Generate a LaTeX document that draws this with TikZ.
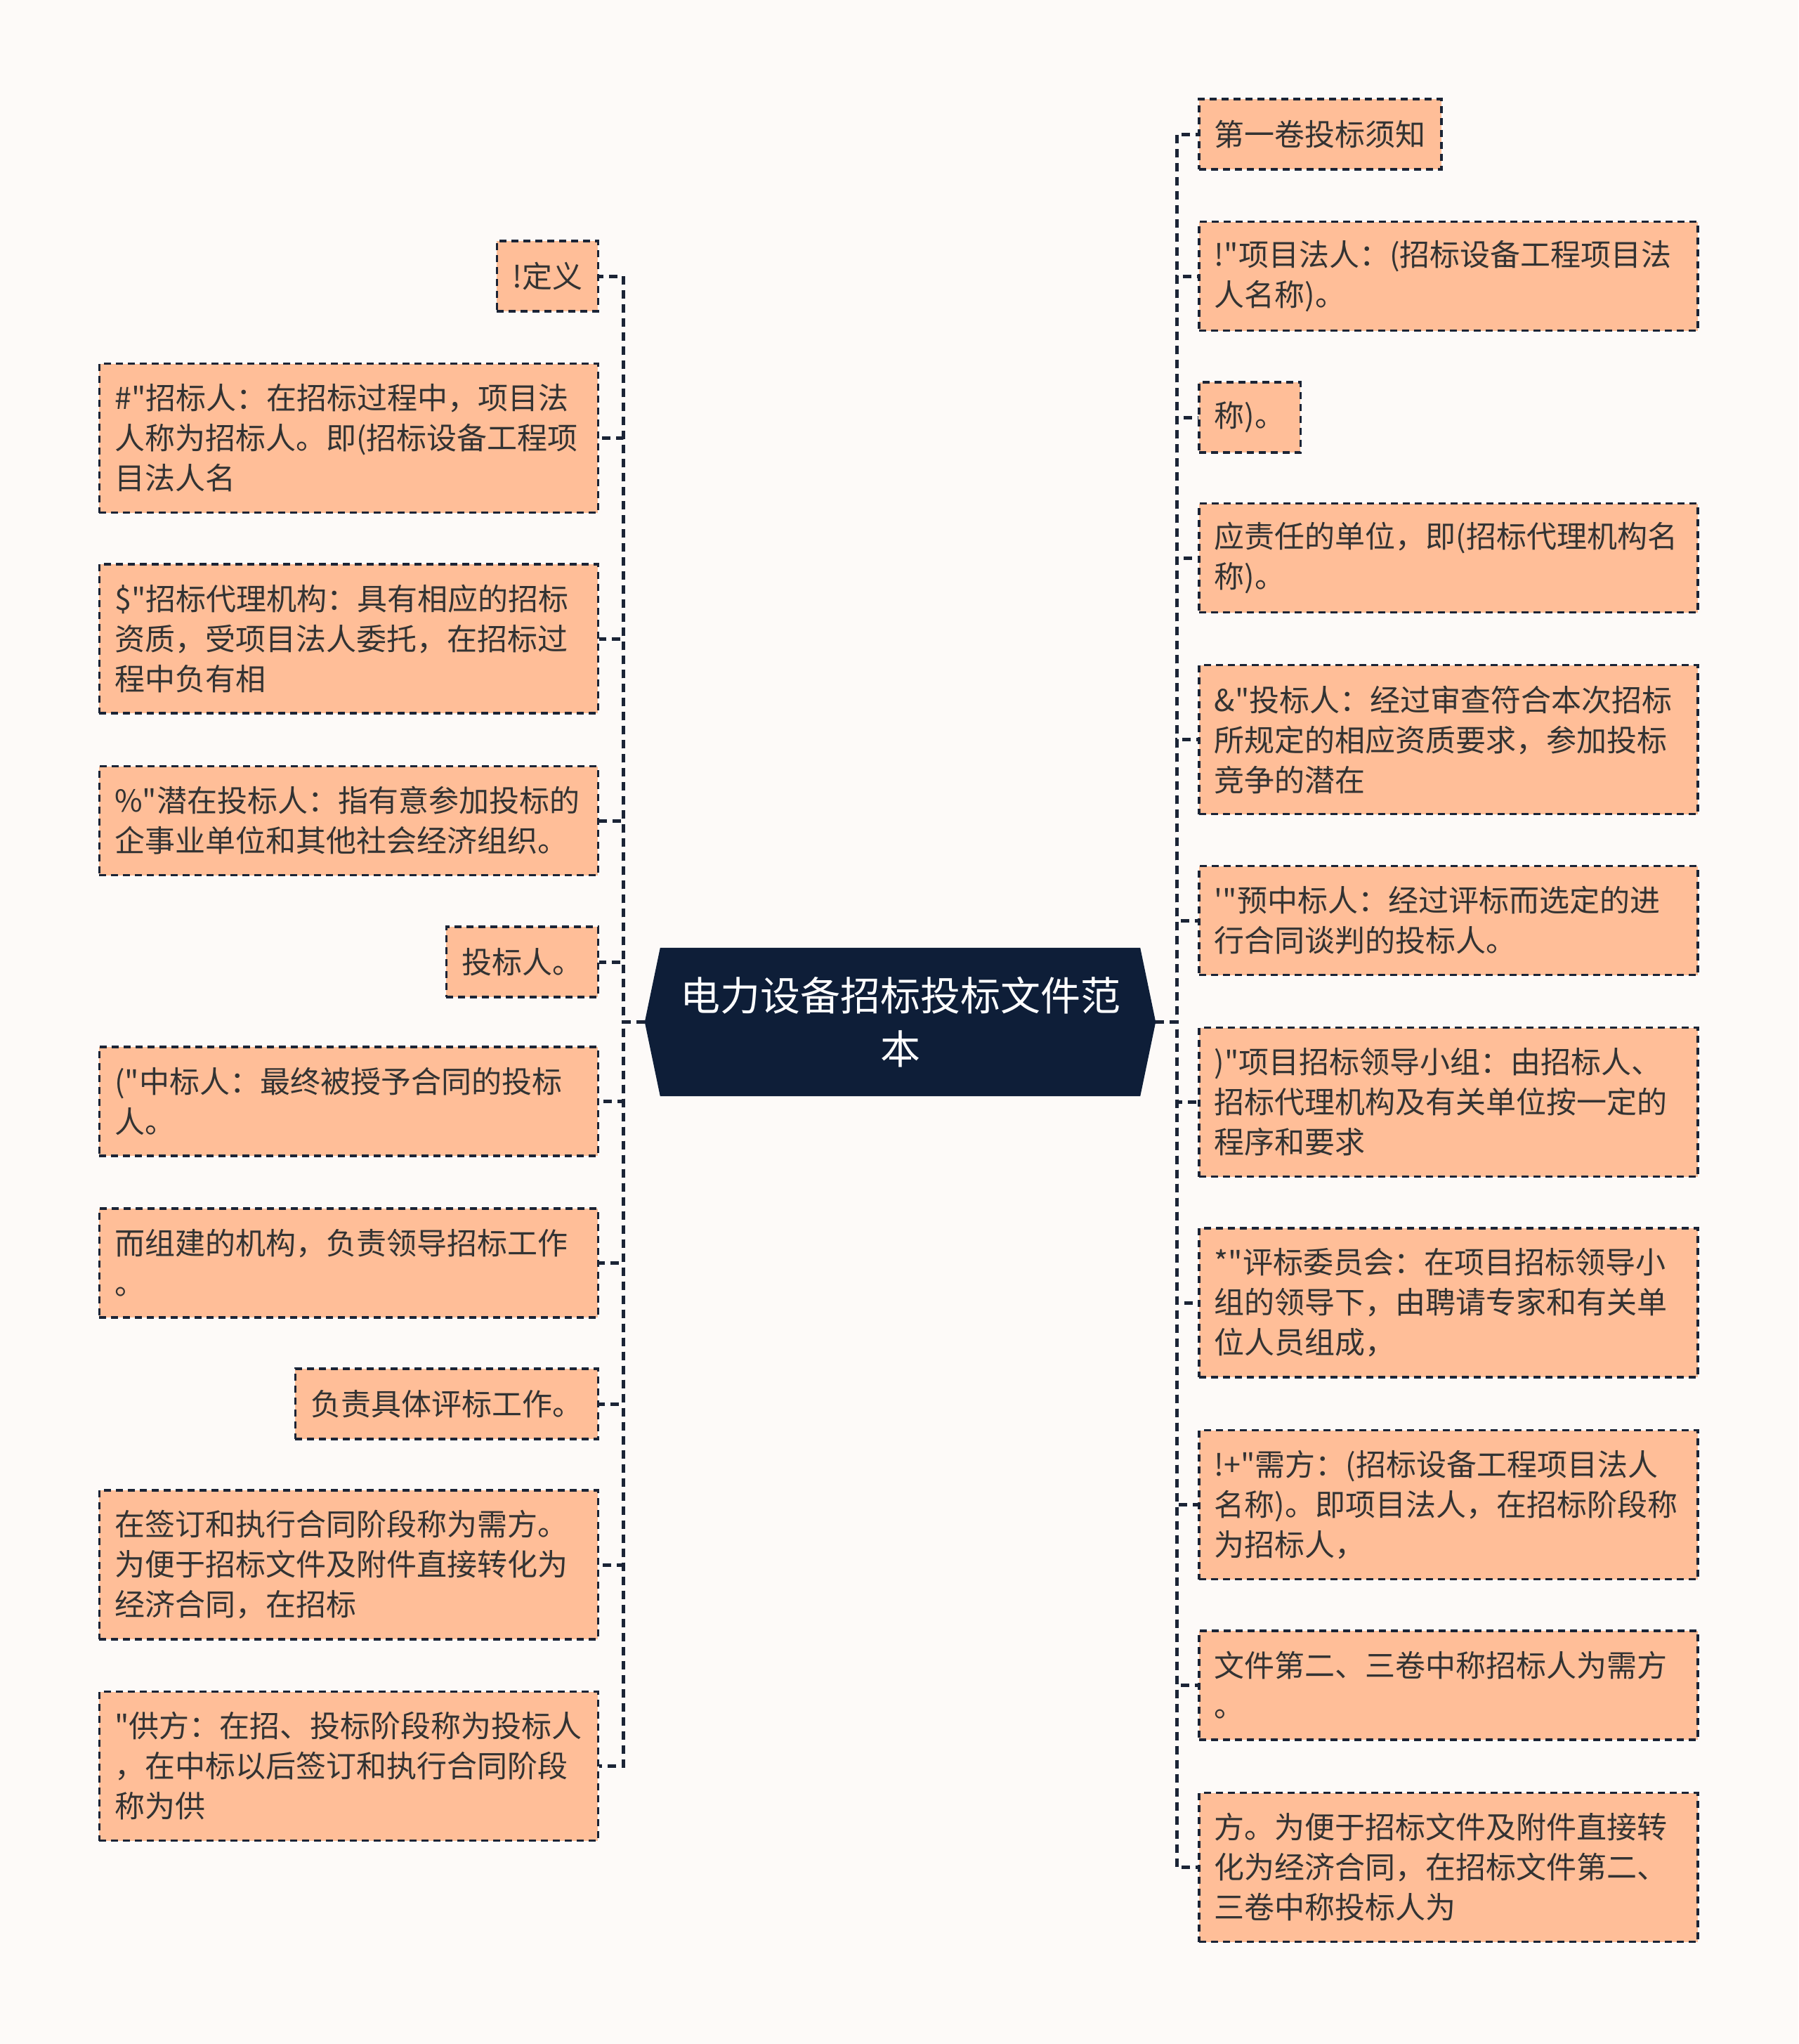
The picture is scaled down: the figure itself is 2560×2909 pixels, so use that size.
\documentclass[tikz,border=0pt]{standalone}
\usepackage{fontspec}
\usetikzlibrary{backgrounds}
\newfontfamily\cjk{Noto Sans CJK SC}
\definecolor{bg}{HTML}{FDFAF8}
\definecolor{peach}{HTML}{FFBE98}
\definecolor{navy}{HTML}{0E1E38}
\definecolor{ink}{HTML}{333333}
\definecolor{linec}{HTML}{1B2436}
\begin{document}
\begin{tikzpicture}[x=1pt,y=-1pt,
  leaf/.style={draw=linec, line width=3.5pt, dash pattern=on 10pt off 7pt, fill=peach, text=ink,
    font=\cjk\fontsize{43}{57}\selectfont, align=left, inner xsep=22pt, inner ysep=0pt},
  wide/.style={text width=666pt},
  h1/.style={minimum height=100pt},
  h2/.style={minimum height=155pt},
  h3/.style={minimum height=212pt},
  lft/.style={leaf, anchor=east},
  rgt/.style={leaf, anchor=west},
  conn/.style={draw=linec, line width=5pt, dash pattern=on 12pt off 8pt}]
\useasboundingbox (0,0) rectangle (2560,2909);
% root
\node[minimum width=683pt, minimum height=211pt, text=white, align=center,
  font=\cjk\fontsize{57}{76}\selectfont, inner sep=0pt] (root) at (1281.5,1454.5)
  {电力设备招标投标文件范\\本};
\begin{pgfonlayer}{background}
\fill[bg] (0,0) rectangle (2560,2909);
\fill[navy] ([xshift=-22pt]root.west) -- (root.north west) -- (root.north east)
  -- ([xshift=22pt]root.east) -- (root.south east) -- (root.south west) -- cycle;
\end{pgfonlayer}
\coordinate (rootL) at ([xshift=-22pt]root.west);
\coordinate (rootR) at ([xshift=22pt]root.east);
\coordinate (tL) at (887,1454.5);
\coordinate (tR) at (1675,1454.5);
% left
\node[lft,h1] (L1) at (853,393) {!定义};
\node[lft,h3,wide] (L2) at (853,623.5) {\#"招标人：在招标过程中，项目法\\人称为招标人。即(招标设备工程项\\目法人名};
\node[lft,h3,wide] (L3) at (853,909) {\$"招标代理机构：具有相应的招标\\资质，受项目法人委托，在招标过\\程中负有相};
\node[lft,h2,wide] (L4) at (853,1168) {\%"潜在投标人：指有意参加投标的\\企事业单位和其他社会经济组织。};
\node[lft,h1] (L5) at (853,1369) {投标人。};
\node[lft,h2,wide] (L6) at (853,1567.5) {("中标人：最终被授予合同的投标\\人。};
\node[lft,h2,wide] (L7) at (853,1797.5) {而组建的机构，负责领导招标工作\\。};
\node[lft,h1] (L8) at (853,1998) {负责具体评标工作。};
\node[lft,h3,wide] (L9) at (853,2227) {在签订和执行合同阶段称为需方。\\为便于招标文件及附件直接转化为\\经济合同，在招标};
\node[lft,h3,wide] (L10) at (853,2513.5) {"供方：在招、投标阶段称为投标人\\，在中标以后签订和执行合同阶段\\称为供};
% right
\node[rgt,h1] (R1) at (1705,191) {第一卷投标须知};
\node[rgt,h2,wide] (R2) at (1705,393) {!"项目法人：(招标设备工程项目法\\人名称)。};
\node[rgt,h1] (R3) at (1705,594) {称)。};
\node[rgt,h2,wide] (R4) at (1705,794) {应责任的单位，即(招标代理机构名\\称)。};
\node[rgt,h3,wide] (R5) at (1705,1052.5) {\&"投标人：经过审查符合本次招标\\所规定的相应资质要求，参加投标\\竞争的潜在};
\node[rgt,h2,wide] (R6) at (1705,1310) {'"预中标人：经过评标而选定的进\\行合同谈判的投标人。};
\node[rgt,h3,wide] (R7) at (1705,1568.5) {)"项目招标领导小组：由招标人、\\招标代理机构及有关单位按一定的\\程序和要求};
\node[rgt,h3,wide] (R8) at (1705,1854) {*"评标委员会：在项目招标领导小\\组的领导下，由聘请专家和有关单\\位人员组成，};
\node[rgt,h3,wide] (R9) at (1705,2141.5) {!+"需方：(招标设备工程项目法人\\名称)。即项目法人，在招标阶段称\\为招标人，};
\node[rgt,h2,wide] (R10) at (1705,2398.5) {文件第二、三卷中称招标人为需方\\。};
\node[rgt,h3,wide] (R11) at (1705,2657.5) {方。为便于招标文件及附件直接转\\化为经济合同，在招标文件第二、\\三卷中称投标人为};
% connectors
\foreach \n in {L1,L2,L3,L4,L5,L6,L7,L8,L9,L10}
  \draw[conn] (rootL) -- (tL) |- (\n.east);
\foreach \n in {R1,R2,R3,R4,R5,R6,R7,R8,R9,R10,R11}
  \draw[conn] (rootR) -- (tR) |- (\n.west);
\end{tikzpicture}
\end{document}
